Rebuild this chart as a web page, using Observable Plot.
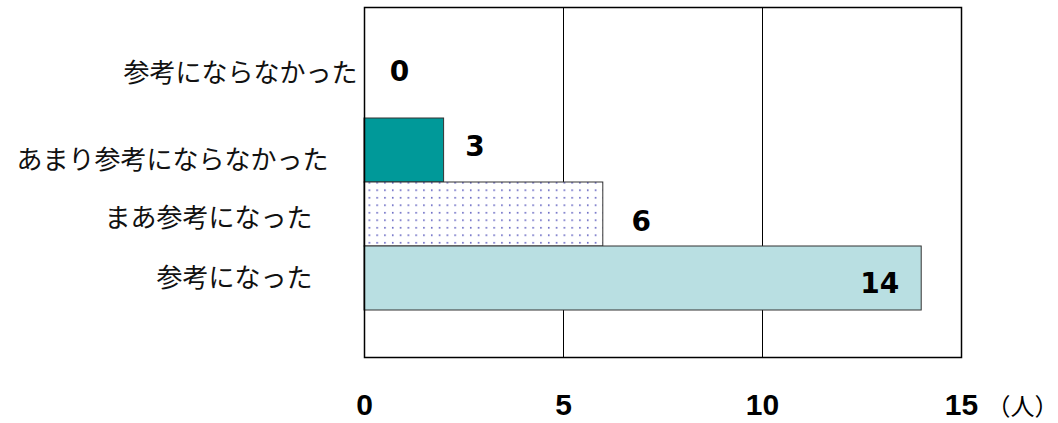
<!DOCTYPE html>
<html>
<head>
<meta charset="utf-8">
<script src="https://cdn.jsdelivr.net/npm/d3@7"></script>
<script src="https://cdn.jsdelivr.net/npm/@observablehq/plot@0.6"></script>
<style>
  html, body { margin: 0; padding: 0; background: #fff; }
  #chart svg { display: block; background: #fff; }
</style>
</head>
<body>
<div id="chart"></div>
<script>
// ---- data ----
const categories = ["参考にならなかった", "あまり参考にならなかった", "まあ参考になった", "参考になった"];
const barValues = [0, 2, 6, 14];          // bar lengths as drawn
const valueLabels = ["0", "3", "6", "14"]; // numbers printed beside the bars
const xTicks = [0, 5, 10, 15];
const gridValues = [5, 10];
const unitLabel = "（人）";

// ---- styles / layout (not data) ----
const barFills = ["#009999", "#009999", "url(#dots)", "#b9dfe2"];
const catLabelOffset = [[-7, -13], [-36, 10], [-52, 4.5], [-52, 0]];
const valueLabelOffset = [[35, -14], [31, -3], [38, 8], [-42, 6]];
const jpFont = "'Noto Sans CJK JP', 'Noto Sans', sans-serif";
const numFont = "'DejaVu Sans', sans-serif";
const axisFont = "'Liberation Sans', Arial, sans-serif";

const rows = categories.map((c, i) => ({category: c, value: barValues[i], label: valueLabels[i]}));

const marks = [
  Plot.ruleX(gridValues, {stroke: "black", strokeWidth: 1}),
  Plot.barX(rows.filter(d => d.value > 0), {
    x: "value", y: "category",
    fill: d => barFills[categories.indexOf(d.category)],
    stroke: "#333", strokeWidth: 1
  }),
  Plot.frame({stroke: "black", strokeWidth: 1.5}),
  Plot.text(xTicks, {
    x: d => d, frameAnchor: "bottom", dy: 57,
    fontSize: 30, fontWeight: "bold", fontFamily: axisFont, fill: "black"
  }),
  Plot.text([unitLabel], {
    x: [xTicks[xTicks.length - 1]], frameAnchor: "bottom", dx: 61, dy: 57,
    fontSize: 24, fontFamily: jpFont, fill: "black"
  })
];

categories.forEach((c, i) => {
  marks.push(Plot.text([c], {
    x: [0], y: [c], textAnchor: "end",
    dx: catLabelOffset[i][0], dy: catLabelOffset[i][1],
    fontSize: 26, fontFamily: jpFont, fill: "#111"
  }));
  marks.push(Plot.text([valueLabels[i]], {
    x: [barValues[i]], y: [c], textAnchor: "middle",
    dx: valueLabelOffset[i][0], dy: valueLabelOffset[i][1],
    fontSize: 28, fontWeight: "bold", fontFamily: numFont, fill: "black"
  }));
});

const svg = Plot.plot({
  width: 1058, height: 423,
  marginLeft: 364, marginRight: 97, marginTop: 7, marginBottom: 66,
  x: {domain: [0, 15], axis: null},
  y: {domain: categories, paddingInner: 0, paddingOuter: 0.73, axis: null},
  color: {type: "identity"},
  style: {background: "#fff", overflow: "visible"},
  marks
});

// dotted pattern for the "まあ参考になった" bar
const defs = d3.select(svg).insert("defs", ":first-child");
const pat = defs.append("pattern")
  .attr("id", "dots").attr("patternUnits", "userSpaceOnUse")
  .attr("width", 7.8).attr("height", 7.5);
pat.append("rect").attr("width", 7.8).attr("height", 7.5).attr("fill", "#fff");
pat.append("rect").attr("x", 2).attr("y", 2).attr("width", 1.5).attr("height", 1.5).attr("fill", "#4b4bb8");

document.getElementById("chart").appendChild(svg);
</script>
</body>
</html>
